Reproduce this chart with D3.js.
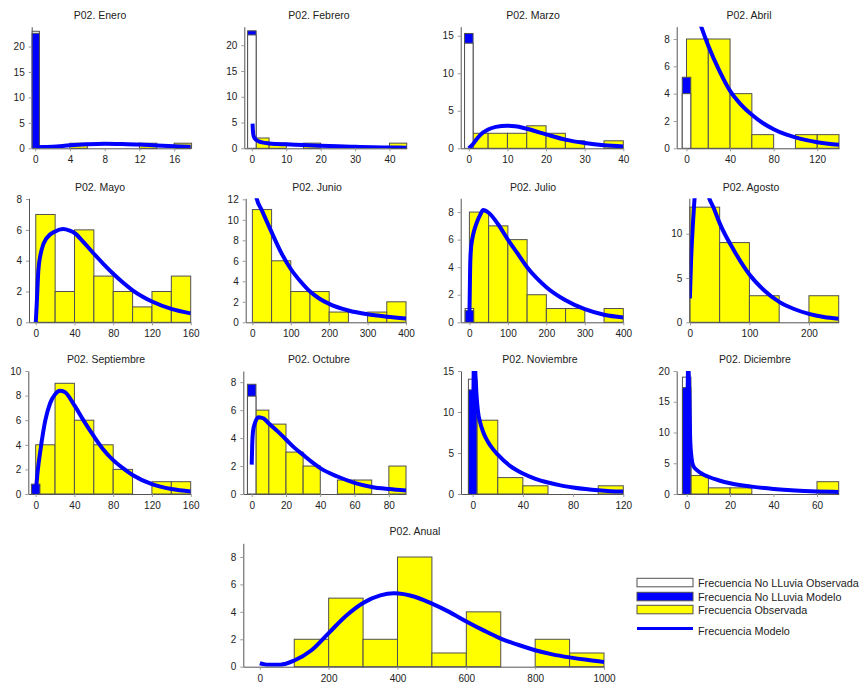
<!DOCTYPE html>
<html><head><meta charset="utf-8">
<script src="https://cdn.jsdelivr.net/npm/d3@7"></script>
<style>body{margin:0;background:#fff}svg{display:block}</style>
</head><body>
<svg id="chart" width="861" height="686"></svg>
<script>
// ---------------- DATA ----------------
const titles = ["P02. Enero","P02. Febrero","P02. Marzo","P02. Abril","P02. Mayo","P02. Junio",
  "P02. Julio","P02. Agosto","P02. Septiembre","P02. Octubre","P02. Noviembre","P02. Diciembre","P02. Anual"];
const binWidths = [2,5,5,20,20,50,50,50,20,10,20,10,100];

const countsEnero      = [0,0,1,0,0,0,1,0,1];
const countsFebrero    = [2,1,0,1,0,0,0,0,1];
const countsMarzo      = [2,2,2,3,2,1,0,1];
const countsAbril      = [8,8,4,1,0,1,1];
const countsMayo       = [7,2,6,3,2,1,2,3];
const countsJunio      = [11,6,3,3,1,0,1,2];
const countsJulio      = [8,7,6,2,1,1,0,1];
const countsAgosto     = [13,9,3,0,3];
const countsSeptiembre = [4,9,6,4,2,0,1,1];
const countsOctubre    = [6,5,3,2,0,1,1,0,2];
const countsNoviembre  = [9,2,1,0,0,1];
const countsDiciembre  = [3,1,1,0,0,0,2];
const countsAnual      = [0,2,5,2,8,1,4,0,2,1];

const noRainObserved = [23,22,14,4,0,0,1,0,0,7,14,19,0];
const noRainModel    = [22.6,22.8,15.3,5.2,0,0,0.85,0,0.8,7.85,12.7,17.3,0];

const curveEnero = [[0,0.2],[1,0.25],[2,0.3],[4,0.6],[6,0.8],[8,0.9],[10,0.85],[12,0.75],[14,0.55],[16,0.4],[18,0.3]];
const curveFebrero = [[0.2,4.8],[0.3,3.5],[0.5,2.4],[1,1.8],[2,1.35],[3,1.15],[5,0.95],[7,0.85],[10,0.78],[15,0.62],[20,0.5],[25,0.38],[30,0.28],[35,0.2],[40,0.15],[45,0.12]];
const curveMarzo = [[0,0],[1,0.5],[2,1.2],[3,1.8],[5,2.5],[7,2.85],[10,3.0],[12,2.95],[15,2.6],[20,1.85],[25,1.15],[30,0.7],[35,0.4],[40,0.25]];
const curveAbril = [[5,11],[8,10.2],[13.5,8.9],[20,7.5],[30,5.7],[40,4.2],[50,3.2],[60,2.45],[70,1.85],[80,1.4],[90,1.05],[100,0.8],[110,0.6],[120,0.45],[130,0.34],[140,0.26]];
const curveMayo = [[0,0],[1,1.2],[2.7,3.4],[6,4.7],[11,5.45],[20,5.9],[28,6.05],[35,5.95],[40,5.8],[50,5.15],[60,4.45],[70,3.78],[80,3.15],[90,2.58],[100,2.08],[110,1.68],[120,1.35],[140,0.87],[160,0.58]];
const curveJunio = [[0,14.5],[11,12.1],[25,10.9],[50,8.8],[75,6.8],[100,5.2],[125,4.0],[150,3.0],[175,2.3],[200,1.8],[250,1.15],[300,0.78],[350,0.55],[400,0.38]];
const curveJulio = [[0,0.3],[1,2.2],[2,4],[4,5.3],[6,5.8],[10,6.4],[15,6.9],[20,7.3],[28,7.8],[36,8.15],[50,7.95],[75,7.1],[100,6.0],[125,5.0],[150,4.0],[175,3.2],[200,2.55],[250,1.6],[300,0.95],[350,0.55],[400,0.35]];
const curveAgosto = [[0,2.7],[1,5],[2,7],[3,8.6],[5,11],[7,13.2],[9,14.8],[15,16.5],[22,16.3],[28,15],[32.5,14],[40,12.9],[50,11.2],[75,8],[100,5.4],[125,3.6],[150,2.3],[175,1.5],[200,0.95],[225,0.6],[250,0.4]];
const curveSeptiembre = [[0,0],[2,1.8],[5,3.6],[10,6.0],[15,7.4],[20,8.1],[25,8.4],[30,8.3],[40,7.2],[50,5.9],[60,4.7],[70,3.6],[80,2.75],[90,2.1],[100,1.55],[120,0.8],[140,0.4],[160,0.2]];
const curveOctubre = [[0,2.1],[0.3,3.5],[0.8,4.5],[2,5.1],[4,5.5],[7,5.4],[10,5.05],[15,4.5],[20,3.9],[25,3.3],[30,2.8],[35,2.3],[40,1.85],[50,1.25],[60,0.8],[70,0.5],[80,0.35],[90,0.25]];
const curveNoviembre = [[0,0],[0.3,8],[0.8,15],[1.5,17],[2.2,14.5],[3,12.2],[4.2,10.1],[6,8.7],[8.5,7.5],[12,6.4],[16,5.5],[20,4.8],[30,3.4],[40,2.5],[50,1.85],[60,1.4],[70,1.05],[80,0.8],[90,0.6],[100,0.45],[110,0.35],[120,0.3]];
const curveDiciembre = [[0,0],[0.3,12],[0.7,21],[1.2,16],[1.6,9],[2.2,6],[3,4.6],[5,3.8],[7,3.3],[10,2.8],[15,2.2],[20,1.75],[30,1.2],[40,0.82],[50,0.57],[60,0.42],[70,0.33]];
const curveAnual = [[0,0.25],[20,0.15],[60,0.15],[100,0.45],[150,1.2],[200,2.45],[250,3.7],[300,4.65],[350,5.2],[390,5.35],[450,5.1],[500,4.6],[550,4.0],[600,3.3],[650,2.65],[700,2.05],[750,1.6],[800,1.2],[850,0.9],[900,0.68],[950,0.5],[1000,0.35]];

const xTicks = [[0,4,8,12,16],[0,10,20,30,40],[0,10,20,30,40],[0,40,80,120],[0,40,80,120,160],[0,100,200,300,400],
  [0,100,200,300,400],[0,100,200],[0,40,80,120,160],[0,20,40,60,80],[0,40,80,120],[0,20,40,60],[0,200,400,600,800,1000]];
const yTicks = [[0,5,10,15,20],[0,5,10,15,20],[0,5,10,15],[0,2,4,6,8],[0,2,4,6,8],[0,2,4,6,8,10,12],
  [0,2,4,6,8],[0,5,10],[0,2,4,6,8,10],[0,2,4,6,8],[0,5,10,15],[0,5,10,15,20],[0,2,4,6,8]];

const legendLabels = ["Frecuencia No LLuvia Observada","Frecuencia No LLuvia Modelo","Frecuencia Observada","Frecuencia Modelo"];

const allCounts = [countsEnero,countsFebrero,countsMarzo,countsAbril,countsMayo,countsJunio,countsJulio,
  countsAgosto,countsSeptiembre,countsOctubre,countsNoviembre,countsDiciembre,countsAnual];
const allCurves = [curveEnero,curveFebrero,curveMarzo,curveAbril,curveMayo,curveJunio,curveJulio,
  curveAgosto,curveSeptiembre,curveOctubre,curveNoviembre,curveDiciembre,curveAnual];

// ---------------- LAYOUT ----------------
const layout = [
  {l:31.7,r:190.7,t:26.7,b:148.3,xd:[-0.4,17.9],ym:23.9,tx:100,ty:19},
  {l:244.3,r:406.7,t:26.7,b:148.3,xd:[-2.2,45],ym:23.6,tx:319,ty:19},
  {l:460.7,r:623.3,t:26.7,b:148.3,xd:[-2.1,40],ym:16.2,tx:533,ty:19},
  {l:676.7,r:839,t:26.7,b:148.3,xd:[-9,140],ym:8.9,tx:749,ty:19},
  {l:29,r:190.7,t:198.3,b:322.3,xd:[-7,160],ym:8.05,tx:100,ty:191},
  {l:245.7,r:406,t:198.3,b:322.3,xd:[-17.4,400],ym:12.1,tx:317,ty:191},
  {l:460.7,r:623.3,t:198.3,b:322.3,xd:[-22.6,400],ym:9,tx:533,ty:191},
  {l:689.3,r:838.7,t:198.3,b:322.3,xd:[-1,250],ym:14,tx:751,ty:191},
  {l:28.3,r:190.7,t:371,b:494,xd:[-7.6,160],ym:10,tx:106,ty:363},
  {l:243.3,r:406,t:371,b:494,xd:[-4.9,90],ym:8.8,tx:319,ty:363},
  {l:461,r:623.3,t:371,b:494,xd:[-9.3,120],ym:15,tx:540,ty:363},
  {l:676.7,r:838.7,t:371,b:494,xd:[-4.6,70],ym:20,tx:755,ty:363},
  {l:243.3,r:604,t:543.3,b:666.7,xd:[-48,1000],ym:9,tx:415,ty:535}
];

const FONT = "'Liberation Sans', Arial, sans-serif";
const YELLOW = "#ffff00", BLUE = "#0000ff", EDGE = "#505050", AXIS = "#555";
const svg = d3.select("#chart");
const defs = svg.append("defs");

layout.forEach((L, i) => {
  const x = d3.scaleLinear().domain(L.xd).range([L.l, L.r]);
  const y = d3.scaleLinear().domain([0, L.ym]).range([L.b, L.t]);
  const g = svg.append("g");
  const cid = "clip" + i;
  defs.append("clipPath").attr("id", cid).append("rect")
    .attr("x", L.l).attr("y", L.t).attr("width", L.r - L.l).attr("height", L.b - L.t);

  const bw = binWidths[i];
  const bars = allCounts[i].map((c, k) => ({x0: k * bw, x1: (k + 1) * bw, c})).filter(d => d.c > 0);
  g.append("g").selectAll("rect").data(bars).join("rect")
    .attr("x", d => x(d.x0)).attr("y", d => y(d.c))
    .attr("width", d => x(d.x1) - x(d.x0)).attr("height", d => y(0) - y(d.c))
    .attr("fill", YELLOW).attr("stroke", EDGE).attr("stroke-width", 1);

  const nr = [{v: noRainObserved[i], f: "#ffffff"}, {v: noRainModel[i], f: BLUE}]
    .filter(d => d.v > 0).sort((a, b) => b.v - a.v);
  const half = 4.25;
  g.append("g").attr("clip-path", `url(#${cid})`).selectAll("rect").data(nr).join("rect")
    .attr("x", x(0) - half).attr("width", half * 2)
    .attr("y", d => y(d.v)).attr("height", d => y(0) - y(d.v))
    .attr("fill", d => d.f).attr("stroke", EDGE).attr("stroke-width", 1);

  g.append("path").datum(allCurves[i]).attr("clip-path", `url(#${cid})`)
    .attr("d", d3.line().x(d => x(d[0])).y(d => y(d[1])).curve(d3.curveMonotoneX))
    .attr("fill", "none").attr("stroke", BLUE).attr("stroke-width", 4).attr("stroke-linejoin", "round");

  const fmt = d3.format("d");
  const ax = g.append("g").attr("transform", `translate(0,${L.b})`)
    .call(d3.axisBottom(x).tickValues(xTicks[i]).tickFormat(fmt).tickSizeInner(3).tickSizeOuter(0).tickPadding(5));
  const ay = g.append("g").attr("transform", `translate(${L.l},0)`)
    .call(d3.axisLeft(y).tickValues(yTicks[i]).tickFormat(fmt).tickSizeInner(3).tickSizeOuter(0).tickPadding(4));
  [ax, ay].forEach(a => {
    a.select(".domain").attr("stroke", AXIS);
    a.selectAll(".tick line").attr("stroke", "#999");
    a.selectAll(".tick text").attr("fill", "#222").style("font-family", FONT).style("font-size", "10px");
  });

  g.append("text").attr("x", L.tx).attr("y", L.ty).attr("text-anchor", "middle")
    .attr("fill", "#222").style("font-family", FONT).style("font-size", "10.5px").text(titles[i]);
});

// ---------------- LEGEND ----------------
const legendRows = [578.3, 592.3, 605.3, 626.7];
const legendFills = ["#ffffff", BLUE, YELLOW, null];
const lg = svg.append("g");
legendLabels.forEach((lab, k) => {
  const yy = legendRows[k];
  if (legendFills[k]) {
    lg.append("rect").attr("x", 637).attr("y", yy).attr("width", 56).attr("height", 8.5)
      .attr("fill", legendFills[k]).attr("stroke", EDGE);
  } else {
    lg.append("line").attr("x1", 637).attr("x2", 693).attr("y1", yy + 1.8).attr("y2", yy + 1.8)
      .attr("stroke", BLUE).attr("stroke-width", 3);
  }
  lg.append("text").attr("x", 698).attr("y", yy + 8.5).attr("fill", "#222")
    .style("font-family", FONT).style("font-size", "10.8px").text(lab);
});
</script>
</body></html>
